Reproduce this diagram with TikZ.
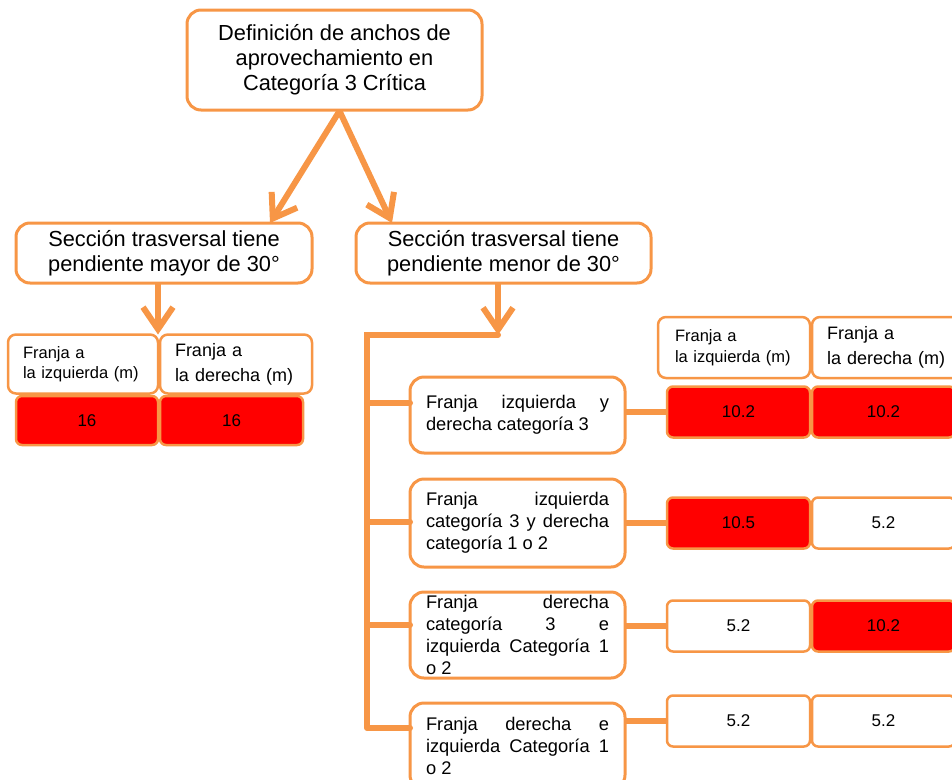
\documentclass[tikz,border=0pt]{standalone}
\usepackage{fontspec}
\setmainfont{Liberation Sans}
\usetikzlibrary{calc,arrows.meta}
\definecolor{color_border}{HTML}{F79646}
\definecolor{color_cell_red}{HTML}{FF0000}

\begin{document}
\begin{tikzpicture}[x=1pt,y=-1pt,
		every node/.style={inner sep=0pt,outer sep=0pt},
		titlebox/.style={draw=color_border,line width=3pt,fill=white,rounded corners=14pt,
			align=center,font=\fontsize{21.8}{25}\selectfont},
		casebox/.style={draw=color_border,line width=3pt,fill=white,rounded corners=14pt,
			inner xsep=16pt,text width=183pt,minimum height=86pt,align=justify,
			font=\fontsize{18.3}{22}\selectfont},
		headbox/.style={draw=color_border,line width=2.5pt,fill=white,rounded corners=8pt,
			align=left,minimum height=59pt},
		cellbox/.style={draw=color_border,line width=2.5pt,rounded corners=6pt,
			minimum width=143pt,minimum height=51pt,font=\fontsize{17}{19}\selectfont},
		flow/.style={color_border,line width=6pt},
		flowarrow/.style={flow,-{Straight Barb[length=22pt,width=30pt]}}]
	\useasboundingbox (0,0) rectangle (952,779);

	% Title and the two sections
	\node[titlebox,minimum width=295pt,minimum height=100pt] (title) at (334.5,60)
		{Definición de anchos de\\aprovechamiento en\\Categoría 3 Crítica};
	\node[titlebox,minimum width=296pt,minimum height=60pt] (secmayor) at (164,253)
		{Sección trasversal tiene\\pendiente mayor de 30°};
	\node[titlebox,minimum width=295pt,minimum height=60pt] (secmenor) at (503.5,253)
		{Sección trasversal tiene\\pendiente menor de 30°};

	\draw[flowarrow] ($(title.south)+(5,1)$) -- ($(secmayor.north east)+(-42,0)$);
	\draw[flowarrow] ($(title.south)+(5,1)$) -- ($(secmenor.north west)+(36,0)$);

	% Left table (pendiente mayor)
	\node[headbox,minimum width=150pt,inner xsep=15pt,text width=120pt,
		font=\fontsize{16.5}{20}\selectfont] (hmizq) at (83,364)
		{Franja a\\la izquierda (m)};
	\node[headbox,minimum width=152pt,inner xsep=15pt,text width=122pt,
		font=\fontsize{18}{25}\selectfont] (hmder) at (236,364)
		{Franja a\\la derecha (m)};
	\node[cellbox,fill=color_cell_red,minimum width=142pt,minimum height=49pt] (vmizq) at (87,420.5) {16};
	\node[cellbox,fill=color_cell_red,minimum width=143pt,minimum height=49pt] (vmder) at (231.5,420.5) {16};

	\draw[flowarrow] (hmizq.north east |- secmayor.south) -- (hmizq.north east);

	% Right branch (pendiente menor)
	\coordinate (elbow) at (498,335);
	\coordinate (trunk) at (367,335);
	\coordinate (bA) at (367,403);
	\coordinate (bB) at (367,522);
	\coordinate (bC) at (367,625);
	\coordinate (bD) at (367,728);

	\node[casebox,minimum height=76pt] (caseA) at (517.5,415)
		{Franja izquierda y\linebreak derecha categoría 3};
	\node[casebox,minimum height=88pt] (caseB) at (517.5,523)
		{Franja izquierda\linebreak categoría 3 y derecha\linebreak categoría 1 o 2};
	\node[casebox] (caseC) at (517.5,635)
		{Franja derecha\linebreak categoría 3 e\linebreak izquierda Categoría 1\linebreak o 2};
	\node[casebox] (caseD) at (517.5,746)
		{Franja derecha e\linebreak izquierda Categoría 1\linebreak o 2};

	\draw[flowarrow] (elbow |- secmenor.south) -- (elbow);
	\draw[flow,line cap=round]
		(elbow) -- (trunk) -- (bD)
		(bA) -- (bA -| caseA.west)
		(bB) -- (bB -| caseB.west)
		(bC) -- (bC -| caseC.west)
		(bD) -- (bD -| caseD.west)
		;

	% Right table headers
	\node[headbox,minimum width=152pt,minimum height=61pt,inner xsep=17pt,text width=118pt,
		font=\fontsize{16.5}{21}\selectfont] (hizq) at (734,347.5)
		{Franja a\\la izquierda (m)};
	\node[headbox,minimum width=150pt,minimum height=61pt,inner xsep=15pt,text width=120pt,
		font=\fontsize{18}{25}\selectfont] (hder) at (887,347.5)
		{Franja a\\la derecha (m)};

	% Right table values
	\node[cellbox,fill=color_cell_red] (vAizq) at (738.5,412) {10.2};
	\node[cellbox,fill=color_cell_red] (vAder) at (883.5,412) {10.2};
	\node[cellbox,fill=color_cell_red] (vBizq) at (738.5,523) {10.5};
	\node[cellbox,fill=white] (vBder) at (883.5,523) {5.2};
	\node[cellbox,fill=white] (vCizq) at (738.5,626) {5.2};
	\node[cellbox,fill=color_cell_red] (vCder) at (883.5,626) {10.2};
	\node[cellbox,fill=white] (vDizq) at (738.5,721) {5.2};
	\node[cellbox,fill=white] (vDder) at (883.5,721) {5.2};

	\draw[flow]
		(caseA.east |- vAizq.west) -- (vAizq.west)
		(caseB.east |- vBizq.west) -- (vBizq.west)
		(caseC.east |- vCizq.west) -- (vCizq.west)
		(caseD.east |- vDizq.west) -- (vDizq.west)
		;
\end{tikzpicture}
\end{document}
